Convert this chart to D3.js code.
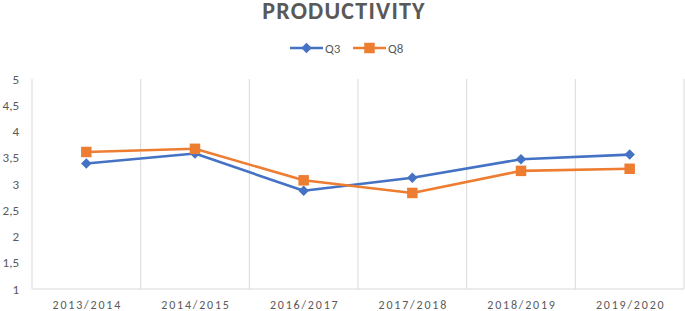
<!DOCTYPE html>
<html>
<head>
<meta charset="utf-8">
<script src="https://cdn.jsdelivr.net/npm/d3@7"></script>
<style>
  body { margin: 0; background: #fff; }
  svg text { font-family: Calibri, Carlito, Lato, "Open Sans", sans-serif; fill: #595959; }
</style>
</head>
<body>
<svg id="chart" width="685" height="311"></svg>
<script>
const years = ["2013/2014", "2014/2015", "2016/2017", "2017/2018", "2018/2019", "2019/2020"];
const q3 = [3.39, 3.58, 2.87, 3.12, 3.47, 3.56];
const q8 = [3.61, 3.67, 3.07, 2.83, 3.25, 3.29];
const yTicks = [1, 1.5, 2, 2.5, 3, 3.5, 4, 4.5, 5];

let svg = d3.select('#chart'),
    width = 685,
    height = 311,
    margin = {top: 79, right: 1, bottom: 22, left: 32};

let xScale = d3.scaleBand()
    .domain(years)
    .range([margin.left, width - margin.right]);

let yScale = d3.scaleLinear()
    .domain([1, 5])
    .range([height - margin.bottom, margin.top]);

// vertical gridlines at category boundaries
let bounds = years.map(d => xScale(d)).concat([xScale.range()[1]]);
svg.append("g").selectAll("line")
    .data(bounds)
    .enter().append("line")
    .attr("x1", d => d).attr("x2", d => d)
    .attr("y1", yScale(5)).attr("y2", yScale(1))
    .attr("stroke", "#d9d9d9").attr("stroke-width", 1);

// x axis line
svg.append("line")
    .attr("x1", margin.left).attr("x2", width - margin.right)
    .attr("y1", yScale(1)).attr("y2", yScale(1))
    .attr("stroke", "#d9d9d9").attr("stroke-width", 1);

// y tick labels
svg.append("g").selectAll("text")
    .data(yTicks)
    .enter().append("text")
    .attr("x", 19)
    .attr("y", d => yScale(d) + 4.5)
    .attr("text-anchor", "end")
    .style("font-size", "13px")
    .text(d => String(d).replace(".", ","));

// x labels
svg.append("g").selectAll("text")
    .data(years)
    .enter().append("text")
    .attr("x", d => xScale(d) + xScale.bandwidth() / 2 + 1)
    .attr("y", 309)
    .attr("text-anchor", "middle")
    .style("font-size", "12px")
    .style("letter-spacing", "1.8px")
    .text(d => d);

// title
svg.append("text")
    .attr("x", 344).attr("y", 19)
    .attr("text-anchor", "middle")
    .style("font-size", "24px")
    .style("font-weight", "bold")
    .style("letter-spacing", "1.2px")
    .text("PRODUCTIVITY");

let cx = d => xScale(d) + xScale.bandwidth() / 2;
let series = [
    {name: "Q3", values: q3, color: "#4472C4", shape: d3.symbolDiamond2, size: 70},
    {name: "Q8", values: q8, color: "#ED7D31", shape: d3.symbolSquare, size: 110}
];

let dline = d3.line()
    .x((d, i) => cx(years[i]))
    .y(d => yScale(d));

series.forEach(function(s){
    svg.append("path")
        .datum(s.values)
        .attr("fill", "none")
        .attr("stroke", s.color)
        .attr("stroke-width", 2.6)
        .attr("stroke-linejoin", "round")
        .attr("d", dline);
    svg.append("g").selectAll("path")
        .data(s.values)
        .enter().append("path")
        .attr("transform", (d, i) => `translate(${cx(years[i])},${yScale(d)})`)
        .attr("d", d3.symbol().type(s.shape).size(s.size))
        .attr("fill", s.color);
});

// legend
let legend = svg.append("g");
let lx = [290, 353];
series.forEach(function(s, i){
    let g = legend.append("g").attr("transform", `translate(${lx[i]},48)`);
    g.append("line").attr("x1", 0).attr("x2", 33).attr("y1", 0).attr("y2", 0)
        .attr("stroke", s.color).attr("stroke-width", 2.6);
    g.append("path").attr("transform", "translate(16.5,0)")
        .attr("d", d3.symbol().type(s.shape).size(s.size)).attr("fill", s.color);
    g.append("text").attr("x", 35).attr("y", 4.5)
        .style("font-size", "13px").text(s.name);
});
</script>
</body>
</html>
